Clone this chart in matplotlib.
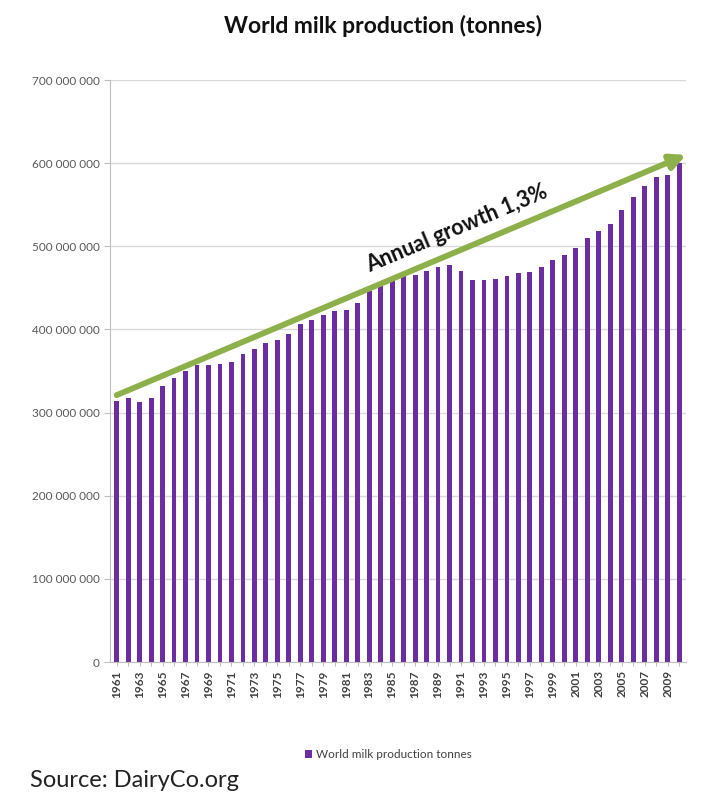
import matplotlib
matplotlib.use('Agg')
import matplotlib.pyplot as plt
from matplotlib.ticker import FuncFormatter, MultipleLocator

plt.rcParams['font.family'] = ['Lato', 'DejaVu Sans']

years = list(range(1961, 2011))
# world milk production, tonnes
milk = [314, 317, 313, 318, 332, 342, 350, 357, 357, 358,
        361, 370, 377, 384, 387, 394, 406, 411, 417, 422,
        424, 432, 446, 452, 458, 464, 465, 470, 475, 478,
        470, 460, 460, 461, 464, 468, 469, 475, 484, 490,
        498, 510, 519, 527, 544, 559, 572, 583, 586, 600]
milk = [v * 1e6 for v in milk]
tick_years = [str(y) if (y - 1961) % 2 == 0 else '' for y in years]

trend_start = (0, 321e6)
trend_end = (49.6, 610e6)
trend_label = 'Annual growth 1,3%'

fig = plt.figure(figsize=(7.06, 7.92), dpi=100)
ax = fig.add_axes([0.1558, 0.1641, 0.8159, 0.7348])

x = list(range(len(years)))
ax.bar(x, milk, width=0.42, color='#6b2d9f', zorder=3,
       label='World milk production tonnes')

ax.set_ylim(0, 700e6)
ax.set_xlim(-0.58, 49.6)
ax.yaxis.set_major_locator(MultipleLocator(100e6))
ax.yaxis.set_major_formatter(FuncFormatter(lambda v, p: f'{int(v):,}'.replace(',', ' ')))
ax.grid(axis='y', color='#d9d9d9', linewidth=1, zorder=0)

ax.set_xticks(x)
ax.set_xticklabels(tick_years, rotation=90, fontsize=8.5, fontweight='bold', color='#404040')
ax.tick_params(axis='y', labelsize=8.5, colors='#595959', length=4, color='#bfbfbf')
ax.tick_params(axis='x', length=3, color='#bfbfbf', pad=3)

for s in ['top', 'right']:
    ax.spines[s].set_visible(False)
for s in ['left', 'bottom']:
    ax.spines[s].set_color('#bfbfbf')

ax.annotate('', xy=trend_end, xytext=trend_start,
            arrowprops=dict(arrowstyle='-|>,head_length=0.9,head_width=0.45',
                            color='#8db04a', lw=4.2, shrinkA=0, shrinkB=0),
            zorder=5)
ax.text(29.6, 521e6, trend_label, rotation=22.8, rotation_mode='anchor',
        ha='center', va='center', fontsize=15.5, fontweight='bold', color='#111111', zorder=6)

fig.text(0.542, 0.967, 'World milk production (tonnes)', ha='center', va='center',
         fontsize=16.5, fontweight='bold', color='#111111')

fig.legend(loc='center', bbox_to_anchor=(0.55, 0.047), frameon=False, fontsize=8.5,
           handlelength=0.6, handleheight=0.6, handletextpad=0.3, labelcolor='#404040')

fig.text(0.042, 0.015, 'Source: DairyCo.org', ha='left', va='center',
         fontsize=17, color='#222222')

fig.savefig('out.png', dpi=100)
